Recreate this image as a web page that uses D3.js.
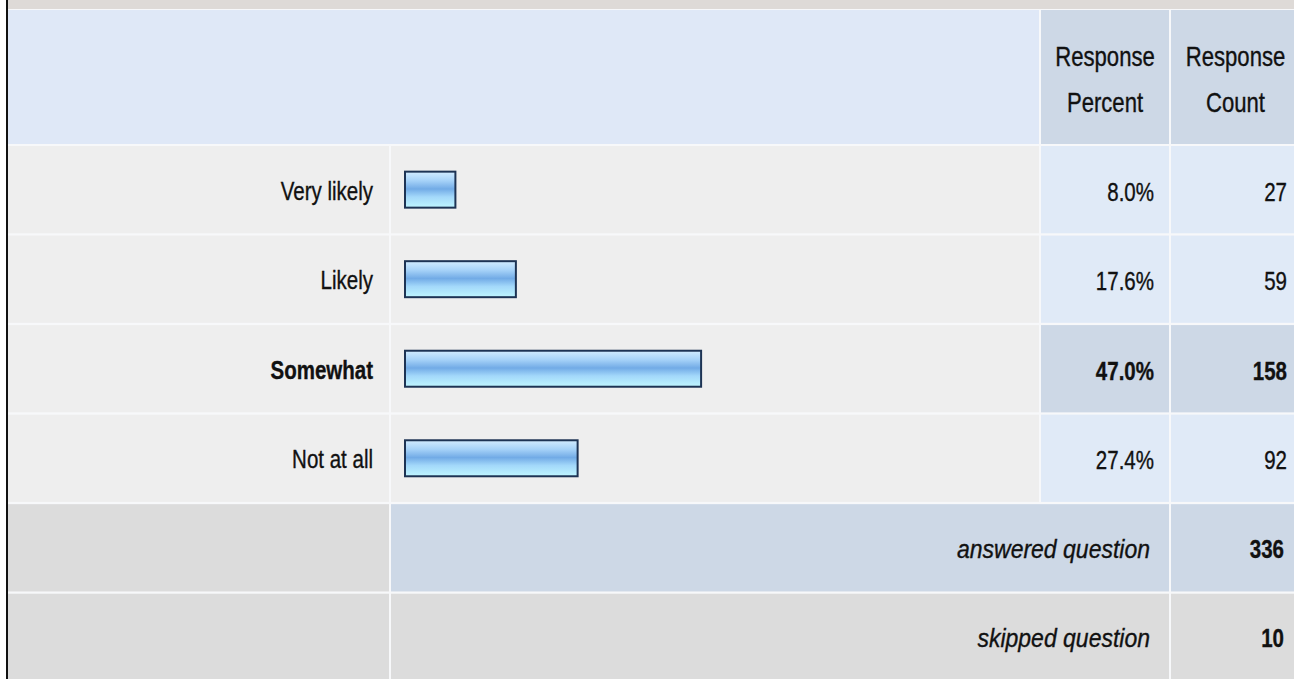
<!DOCTYPE html>
<html>
<head>
<meta charset="utf-8">
<script src="https://cdn.jsdelivr.net/npm/d3@7"></script>
<style>
  body { margin: 0; background: #ffffff; }
  svg text { font-family: "Liberation Sans", Arial, sans-serif; fill: #111111; stroke: #111111; stroke-width: 0.35px; }
</style>
</head>
<body>
<script>
const answers = ["Very likely", "Likely", "Somewhat", "Not at all"];
const percents = [8.0, 17.6, 47.0, 27.4];
const counts = [27, 59, 158, 92];
const headerLines = [["Response", "Percent"], ["Response", "Count"]];
const summaryLabels = ["answered question", "skipped question"];
const summaryValues = [336, 10];

const width = 1294;
const height = 679;
const narrow = 0.82; // squeeze Liberation Sans to look like a narrow face

// column edges
const labelCol = [8, 389];
const barCol = [391, 1039];
const pctCol = [1041, 1169];
const cntCol = [1171, 1294];

var svg = d3.select("body").append("svg")
    .attr("width", width)
    .attr("height", height);

// light background shows through as the gaps between cells
svg.append("rect").attr("width", width).attr("height", height).attr("fill", "#f7f8fa");

// top band + left border
svg.append("rect").attr("x", 0).attr("y", 0).attr("width", width).attr("height", 9).attr("fill", "#dedad7");
svg.append("rect").attr("x", 0).attr("y", 0).attr("width", 6).attr("height", height).attr("fill", "#ffffff");
svg.append("rect").attr("x", 6).attr("y", 0).attr("width", 2).attr("height", height).attr("fill", "#111111");

// rows scale
const rowKeys = answers.concat(summaryLabels);
const y_scale = d3.scaleBand()
    .domain(rowKeys)
    .range([146, 681])
    .paddingInner(0.025)
    .paddingOuter(0);

const x_scale = d3.scaleLinear()
    .domain([0, 100])
    .range([405, 1035]);

const maxIdx = percents.indexOf(d3.max(percents));

function cell(x0, x1, y, h, fill) {
    svg.append("rect")
        .attr("x", x0).attr("y", y)
        .attr("width", x1 - x0).attr("height", h)
        .attr("fill", fill);
}

// text squeezed horizontally around its anchor point
function label(x, y, t, opts) {
    opts = opts || {};
    return svg.append("g")
        .attr("transform", "translate(" + x + "," + y + ") scale(" + (opts.sx || narrow) + ",1)")
        .append("text")
        .attr("text-anchor", opts.anchor || "end")
        .style("font-size", (opts.size || 25) + "px")
        .style("font-weight", opts.bold ? "bold" : "normal")
        .style("font-style", opts.italic ? "italic" : "normal")
        .text(t);
}

// header row
cell(labelCol[0], barCol[1], 10, 134, "#dfe8f7");
cell(pctCol[0], pctCol[1], 10, 134, "#cdd8e6");
cell(cntCol[0], cntCol[1], 10, 134, "#cdd8e6");

headerLines.forEach((lines, i) => {
    const col = i === 0 ? pctCol : cntCol;
    lines.forEach((t, j) => {
        label((col[0] + col[1]) / 2 + (i === 1 ? 3 : 0), 66 + j * 46, t, { anchor: "middle", size: 27 });
    });
});

// gradient for the bars
const defs = svg.append("defs");
const grad = defs.append("linearGradient")
    .attr("id", "barGrad")
    .attr("x1", 0).attr("y1", 0).attr("x2", 0).attr("y2", 1);
grad.append("stop").attr("offset", "0%").attr("stop-color", "#d2ecff");
grad.append("stop").attr("offset", "25%").attr("stop-color", "#a6d2f8");
grad.append("stop").attr("offset", "48%").attr("stop-color", "#72abe6");
grad.append("stop").attr("offset", "70%").attr("stop-color", "#a3d8fa");
grad.append("stop").attr("offset", "100%").attr("stop-color", "#bff6ff");

// answer rows
answers.forEach((a, i) => {
    const y = y_scale(a);
    const h = y_scale.bandwidth();
    const hl = i === maxIdx;
    cell(labelCol[0], labelCol[1], y, h, "#eeeeee");
    cell(barCol[0], barCol[1], y, h, "#eeeeee");
    cell(pctCol[0], pctCol[1], y, h, hl ? "#cdd8e6" : "#e0eaf7");
    cell(cntCol[0], cntCol[1], y, h, hl ? "#cdd8e6" : "#e0eaf7");

    const cy = y + h / 2;
    label(373, cy + 10, a, { bold: hl });

    svg.append("rect")
        .attr("x", x_scale(0))
        .attr("y", cy - 18)
        .attr("width", x_scale(percents[i]) - x_scale(0))
        .attr("height", 36)
        .attr("fill", "url(#barGrad)")
        .attr("stroke", "#1d3354")
        .attr("stroke-width", 2);

    label(1154, cy + 11, percents[i].toFixed(1) + "%", { bold: hl });
    label(1287, cy + 11, counts[i], { bold: hl });
});

// summary rows
summaryLabels.forEach((s, i) => {
    const y = y_scale(s);
    const h = y_scale.bandwidth();
    const fill = i === 0 ? "#cdd8e6" : "#dcdcdc";
    cell(labelCol[0], labelCol[1], y, h, "#dcdcdc");
    cell(barCol[0], pctCol[1], y, h, fill);
    cell(cntCol[0], cntCol[1], y, h, fill);

    const cy = y + h / 2;
    label(1150, cy + 10, s, { italic: true, sx: 0.92 });
    label(1284, cy + 10, summaryValues[i], { bold: true });
});
</script>
</body>
</html>
